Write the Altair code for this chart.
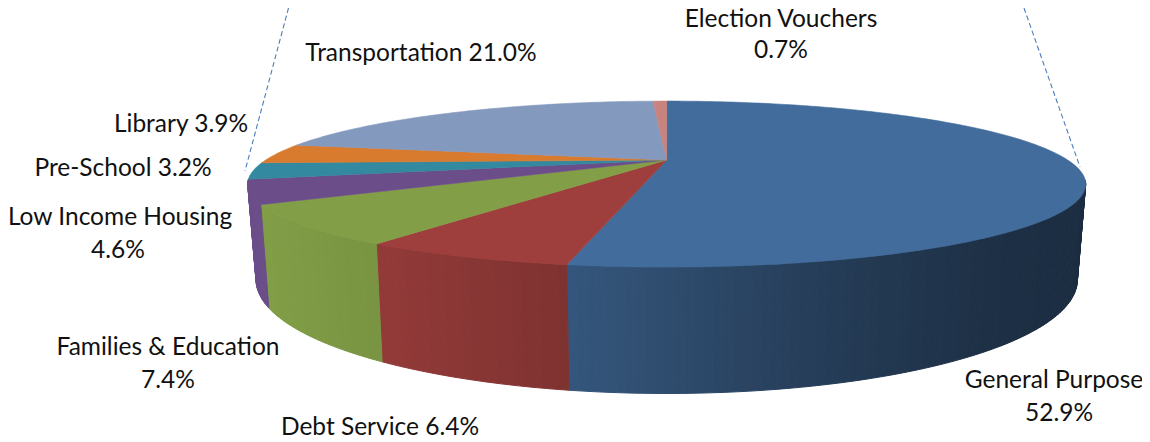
import numpy as np
import pandas as pd
import altair as alt

# ---- data
categories = ["General Purpose", "Debt Service", "Families & Education", "Low Income Housing",
              "Pre-School", "Library", "Transportation", "Election Vouchers"]
shares = [52.9, 6.4, 7.4, 4.6, 3.2, 3.9, 21.0, 0.7]

# ---- styles
top_colors = ["#426C9C", "#9E3F3D", "#829F47", "#6B4E89", "#33899F", "#D97B2E", "#8499BE", "#C9837F"]
shade_x = [250, 374, 565, 800, 1000, 1085]
shade_f = [1.0, 0.93, 0.80, 0.58, 0.44, 0.42]

# ---- view geometry (perspective disc)
W, H = 1134, 434
CX, APEX_Y, A, B, K = 666.7, 160.0, 401.0, 76.0, 0.29
A2, Y2, B2 = 393.0, 247.0, 104.0

def top_pt(t):
    s, c = np.sin(t), -np.cos(t)
    w = 1 - K * c
    return CX + A * s / w, APEX_Y + B * c / w

def bot_pt(t):
    s, c = np.sin(t), -np.cos(t)
    w = 1 - K * c
    return CX + A2 * s / w, Y2 + B2 * c / w

def shade(hexcol, f):
    rgb = [int(hexcol[i:i + 2], 16) for i in (1, 3, 5)]
    return "#%02x%02x%02x" % tuple(int(round(v * f)) for v in rgb)

cum = np.concatenate([[0], np.cumsum(shares)]) / sum(shares) * 2 * np.pi
wall_rows, top_rows = [], []
sid = 0
for i, name in enumerate(categories):
    a0, a1 = cum[i], cum[i + 1]
    n = max(2, int(np.degrees(a1 - a0)))
    ts = np.linspace(a0, a1, n + 1)
    # top face
    pts = [(CX, APEX_Y)] + [top_pt(t) for t in ts]
    for j, (x, y) in enumerate(pts):
        top_rows.append(dict(s=name, o=j, x=x, y=y, c=top_colors[i]))
    # wall strips: only the front of the disc shows
    for t0, t1 in zip(ts[:-1], ts[1:]):
        if -np.cos((t0 + t1) / 2) < 0.24:
            continue
        q = [top_pt(t0), top_pt(t1), bot_pt(t1), bot_pt(t0)]
        col = shade(top_colors[i], float(np.interp((q[0][0] + q[1][0]) / 2, shade_x, shade_f)))
        for j, (x, y) in enumerate(q):
            wall_rows.append(dict(s=sid, o=j, x=x, y=y, c=col))
        sid += 1

xs = alt.Scale(domain=[8, 8 + W], nice=False, zero=False)
ys = alt.Scale(domain=[8 + H, 8], nice=False, zero=False)
X = alt.X("x:Q", scale=xs, axis=None)
Y = alt.Y("y:Q", scale=ys, axis=None)

def polys(rows, sw):
    return alt.Chart(pd.DataFrame(rows)).mark_line(strokeWidth=sw, interpolate="linear-closed").encode(
        x=X, y=Y, order="o:Q", detail="s:N",
        fill=alt.Fill("c:N", scale=None), stroke=alt.Stroke("c:N", scale=None))

walls = polys(wall_rows, 1)
tops = polys(top_rows, 0.6)

leaders = pd.DataFrame([
    dict(s="l", o=0, x=288.5, y=8), dict(s="l", o=1, x=245, y=171),
    dict(s="r", o=0, x=1024, y=8), dict(s="r", o=1, x=1080, y=167),
])
lead = alt.Chart(leaders).mark_line(color="#4A7EBB", strokeWidth=1.1, strokeDash=[5, 3], clip=False).encode(
    x=X, y=Y, order="o:Q", detail="s:N")

pct = {c: f"{v:.1f}%" for c, v in zip(categories, shares)}
labels = pd.DataFrame([
    dict(t=f"Transportation {pct['Transportation']}", x=421, y=61),
    dict(t="Election Vouchers", x=781, y=27),
    dict(t=pct["Election Vouchers"], x=781, y=58),
    dict(t=f"Library {pct['Library']}", x=181, y=132),
    dict(t=f"Pre-School {pct['Pre-School']}", x=123, y=176),
    dict(t="Low Income Housing", x=120, y=225),
    dict(t=pct["Low Income Housing"], x=118, y=258),
    dict(t="Families & Education", x=168, y=355),
    dict(t=pct["Families & Education"], x=168, y=388),
    dict(t=f"Debt Service {pct['Debt Service']}", x=380, y=435),
    dict(t="General Purpose", x=1054, y=388),
    dict(t=pct["General Purpose"], x=1059, y=421),
])
text = alt.Chart(labels).mark_text(font="Lato", fontSize=24.5, color="#111111", align="center",
                                   baseline="alphabetic", clip=False).encode(x=X, y=Y, text="t:N")

chart = alt.layer(lead, walls, tops, text).properties(
    width=W, height=H, padding=0, autosize=alt.AutoSizeParams(type="none"), background="white"
).configure_view(stroke=None)

chart.save("out.html", embed_options={"renderer": "svg", "actions": False})
